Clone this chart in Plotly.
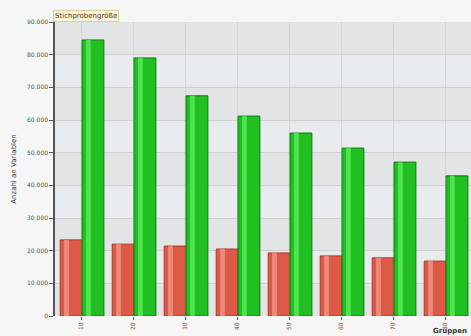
import plotly.graph_objects as go

# Kategorien und Werte
kategorien = ["10", "20", "30", "40", "50", "60", "70", "80"]
werte_rot = [23300, 22000, 21400, 20500, 19300, 18400, 17800, 16800]
werte_gruen = [84500, 79000, 67400, 61200, 56000, 51400, 47100, 42900]
y_ticks = [0, 10000, 20000, 30000, 40000, 50000, 60000, 70000, 80000, 90000]

x_pos = list(range(len(kategorien)))
BW = 0.42

fig = go.Figure()

def zylinder(werte, off, basis, rand, licht, name):
    # Grundkörper
    fig.add_trace(go.Bar(x=x_pos, y=werte, width=BW, offset=off, name=name,
                         marker=dict(color=basis, line=dict(color=rand, width=1)),
                         showlegend=False, hoverinfo="y"))
    # Glanzstreifen
    fig.add_trace(go.Bar(x=x_pos, y=werte, width=BW * 0.22, offset=off + BW * 0.18,
                         marker=dict(color=licht, line=dict(width=0), opacity=0.75),
                         showlegend=False, hoverinfo="skip"))

zylinder(werte_rot, -BW + 0.02, "#dd5a48", "#a8382a", "#f49a88", "rot")
zylinder(werte_gruen, 0.02, "#22bf22", "#0d7a0d", "#5ff05f", "grün")

# abwechselnde Bänder im Hintergrund
shapes = []
for i in range(len(y_ticks) - 1):
    shapes.append(dict(type="rect", xref="paper", yref="y", x0=0, x1=1,
                       y0=y_ticks[i], y1=y_ticks[i + 1], layer="below", line=dict(width=0),
                       fillcolor="#e3e4e6" if (len(y_ticks) - 2 - i) % 2 == 0 else "#e8ebee"))

fig.update_layout(
    width=471, height=336,
    margin=dict(l=55, r=0, t=22, b=20),
    paper_bgcolor="#f6f6f6", plot_bgcolor="#e6e8eb",
    barmode="overlay", separators=",.",
    shapes=shapes,
    font=dict(family="DejaVu Sans", size=6, color="#444"),
    xaxis=dict(range=[-0.5, 7.5], tickvals=x_pos, ticktext=kategorien, tickangle=-90,
               showgrid=True, gridcolor="#d6d6d8", gridwidth=1, zeroline=False,
               ticks="outside", ticklen=3, tickcolor="#555", tickfont=dict(size=6, color="#555")),
    yaxis=dict(range=[0, 90000], tickvals=y_ticks, tickformat=",d",
               showgrid=True, gridcolor="#d0d0d3", gridwidth=1, zeroline=False,
               showline=True, linecolor="#555", linewidth=1.5,
               ticks="outside", ticklen=4, tickcolor="#555", tickfont=dict(size=6, color="#555"),
               title=dict(text="Anzahl an Variablen", font=dict(size=7, color="#333"), standoff=10)),
    annotations=[
        dict(text="Stichprobengröße", xref="paper", yref="paper", x=-0.005, y=1.0,
             xanchor="left", yanchor="bottom", showarrow=False,
             font=dict(size=7, color="#6b2a1a"), bgcolor="#fbf6d8",
             bordercolor="#d8cfa0", borderwidth=1, borderpad=1),
        dict(text="<b>Gruppen</b>", xref="paper", yref="paper", x=0.995, y=-0.03,
             xanchor="right", yanchor="top", showarrow=False,
             font=dict(size=7, color="#333")),
    ],
)

fig.write_html("out.html")
